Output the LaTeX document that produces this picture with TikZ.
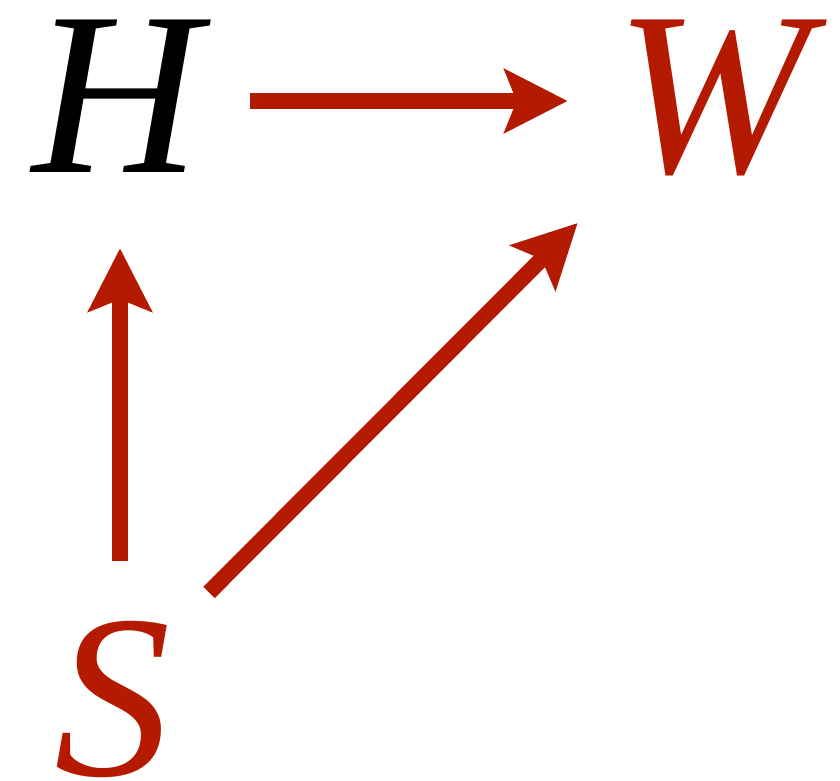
\documentclass[tikz,border=0pt]{standalone}
\usepackage{fontspec}
\setmainfont{Liberation Serif}
\usetikzlibrary{arrows.meta}
\definecolor{cred}{HTML}{B41A00}
\definecolor{cblack}{HTML}{000000}

\begin{document}
\begin{tikzpicture}[x=0.75pt, y=-0.75pt, line cap=butt,
                    var/.style={inner sep=0pt, anchor=base,
                      font=\fontsize{174.75pt}{174.75pt}\selectfont\itshape},
                    link/.style={cred, line width=12pt,
                      -{Stealth[length=47.25pt, width=47.25pt, inset=9pt]}}]
\useasboundingbox (0,0) rectangle (840,781);

% =================== the three variables ===================
\node[var, text=cblack] (H) at (117,173) {H};
\node[var, text=cred]   (W) at (713,173) {W};
\node[var, text=cred]   (S) at (113,775) {S};

% =================== causal arrows ===================
\draw[link] ([shift={(49,-72)}]H.base east) -- ([shift={(-48,-72)}]W.base west);
\draw[link] ([shift={(7,-59)}]S.north)      -- ([shift={(3,75)}]H.south);
\draw[link] ([shift={(96,-28)}]S.north)     -- ([shift={(-38,50)}]W.base west);

\end{tikzpicture}
\end{document}
